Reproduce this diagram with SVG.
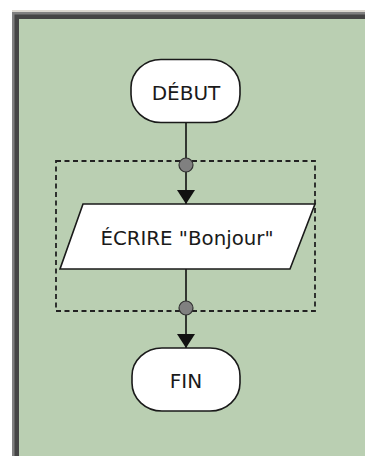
<svg xmlns="http://www.w3.org/2000/svg" width="365" height="456" viewBox="0 0 365 456">
<style>
.node{fill:#ffffff;stroke:#1a1a1a;stroke-width:1.6}
.lbl{font-family:"DejaVu Sans",sans-serif;font-size:20px;fill:#1a1a1a;text-anchor:middle}
.wire{stroke:#111;stroke-width:1.6;fill:none}
.dot{fill:#808080;stroke:#333;stroke-width:1.2}
</style>
<defs>
<marker id="arr" viewBox="0 0 14 18" refX="14" refY="9" markerWidth="14" markerHeight="18" markerUnits="userSpaceOnUse" orient="auto">
<path d="M0,0 L14,9 L0,18 Z" fill="#111"/>
</marker>
</defs>
<rect x="0" y="0" width="365" height="456" fill="#ffffff"/>
<rect x="12" y="10" width="353" height="2" fill="#dcd8d0"/>
<rect x="12" y="12" width="353" height="444" fill="#808080"/>
<rect x="14.5" y="14.5" width="351" height="442" fill="#454545"/>
<rect x="19" y="19" width="346" height="437" fill="#bacfb2"/>
<rect x="56" y="161" width="259" height="150" fill="none" stroke="#222" stroke-width="1.8" stroke-dasharray="5,3.5"/>
<g id="connectors">
<line class="wire" x1="186" y1="122" x2="186" y2="204" marker-end="url(#arr)"/>
<line class="wire" x1="186" y1="269" x2="186" y2="348" marker-end="url(#arr)"/>
<circle class="dot" cx="186" cy="165" r="7"/>
<circle class="dot" cx="186" cy="308" r="7"/>
</g>
<g id="debut">
<rect class="node" x="131" y="59.5" width="109" height="63" rx="30" ry="28"/>
<text class="lbl" x="186" y="99.5">DÉBUT</text>
</g>
<g id="ecrire">
<polygon class="node" points="83,204 315,204 290,269 60,269"/>
<text class="lbl" x="187" y="245" font-size="19" textLength="173" lengthAdjust="spacingAndGlyphs">ÉCRIRE "Bonjour"</text>
</g>
<g id="fin">
<rect class="node" x="132" y="348" width="108" height="63" rx="30" ry="28"/>
<text class="lbl" x="186" y="388">FIN</text>
</g>
</svg>
